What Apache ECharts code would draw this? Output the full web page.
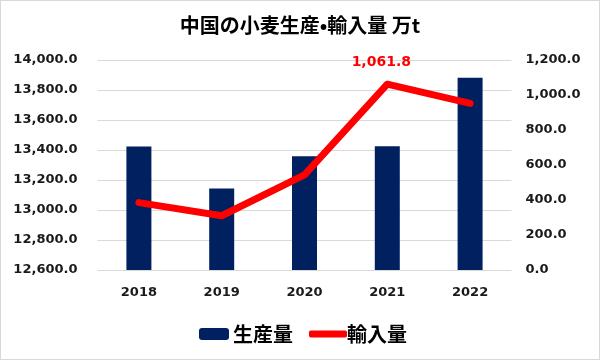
<!DOCTYPE html>
<html><head><meta charset="utf-8">
<script src="https://cdn.jsdelivr.net/npm/echarts@6/dist/echarts.min.js"></script>
<style>
html,body{margin:0;padding:0;background:#fff;}
#c{width:598px;height:358px;border:1px solid #d9d9d9;}
</style></head>
<body><div id="c"></div>
<script>
const years = ['2018','2019','2020','2021','2022'];
const production = [13424, 13144, 13359, 13425, 13882];
const imports = [385, 310, 543, 1061.8, 952];
const leftTicks = [12600, 14000, 200];
const rightTicks = [0, 1200, 200];
const labelIndex = 3;

const fmt = v => v.toLocaleString('en-US',{minimumFractionDigits:1,maximumFractionDigits:1});
const axisFont = {fontFamily:'DejaVu Sans',fontWeight:'bold',fontSize:13,color:'#1a1a1a'};

const chart = echarts.init(document.getElementById('c'));
chart.setOption({
  animation:false,
  title:{text:'中国の小麦生産•輸入量 万t',left:'center',top:9,
    textStyle:{fontFamily:'Noto Sans CJK JP',fontSize:20,fontWeight:'bold',color:'#000'}},
  grid:{left:96.5,right:87.5,top:59,bottom:89},
  legend:[
    {data:['生産量'],left:193,top:318,itemWidth:30,itemHeight:12,itemGap:0,
      textStyle:{fontFamily:'Noto Sans CJK JP',fontSize:20,fontWeight:'bold',color:'#000',padding:[0,0,0,-1]}},
    {data:[{name:'輸入量',icon:'roundRect'}],left:303,top:318,itemWidth:38,itemHeight:7,itemGap:0,
      textStyle:{fontFamily:'Noto Sans CJK JP',fontSize:20,fontWeight:'bold',color:'#000',padding:[0,0,0,-5]}}
  ],
  xAxis:{type:'category',data:years,
    axisLine:{show:false},axisTick:{show:false},
    axisLabel:Object.assign({margin:16},axisFont)},
  yAxis:[
    {type:'value',min:leftTicks[0],max:leftTicks[1],interval:leftTicks[2],
      axisLine:{show:false},axisTick:{show:false},
      splitLine:{lineStyle:{color:'#d9d9d9',width:1}},
      axisLabel:Object.assign({formatter:fmt,margin:20},axisFont)},
    {type:'value',min:rightTicks[0],max:rightTicks[1],interval:rightTicks[2],
      axisLine:{show:false},axisTick:{show:false},splitLine:{show:false},
      axisLabel:Object.assign({formatter:fmt,margin:14},axisFont)}
  ],
  series:[
    {name:'生産量',type:'bar',data:production,barWidth:25,
      itemStyle:{color:'#002060'}},
    {name:'輸入量',type:'line',yAxisIndex:1,symbol:'none',
      lineStyle:{color:'#ff0000',width:7,cap:'round',join:'round'},
      itemStyle:{color:'#ff0000'},
      data:imports.map((v,i)=> i===labelIndex ? {value:v,symbol:'circle',symbolSize:1,
        label:{show:true,position:'top',distance:14,offset:[-6,0],
        formatter:p=>fmt(p.value),fontFamily:'DejaVu Sans',fontWeight:'bold',fontSize:14,color:'#ff0000'}} : v)}
  ]
});
</script></body></html>
